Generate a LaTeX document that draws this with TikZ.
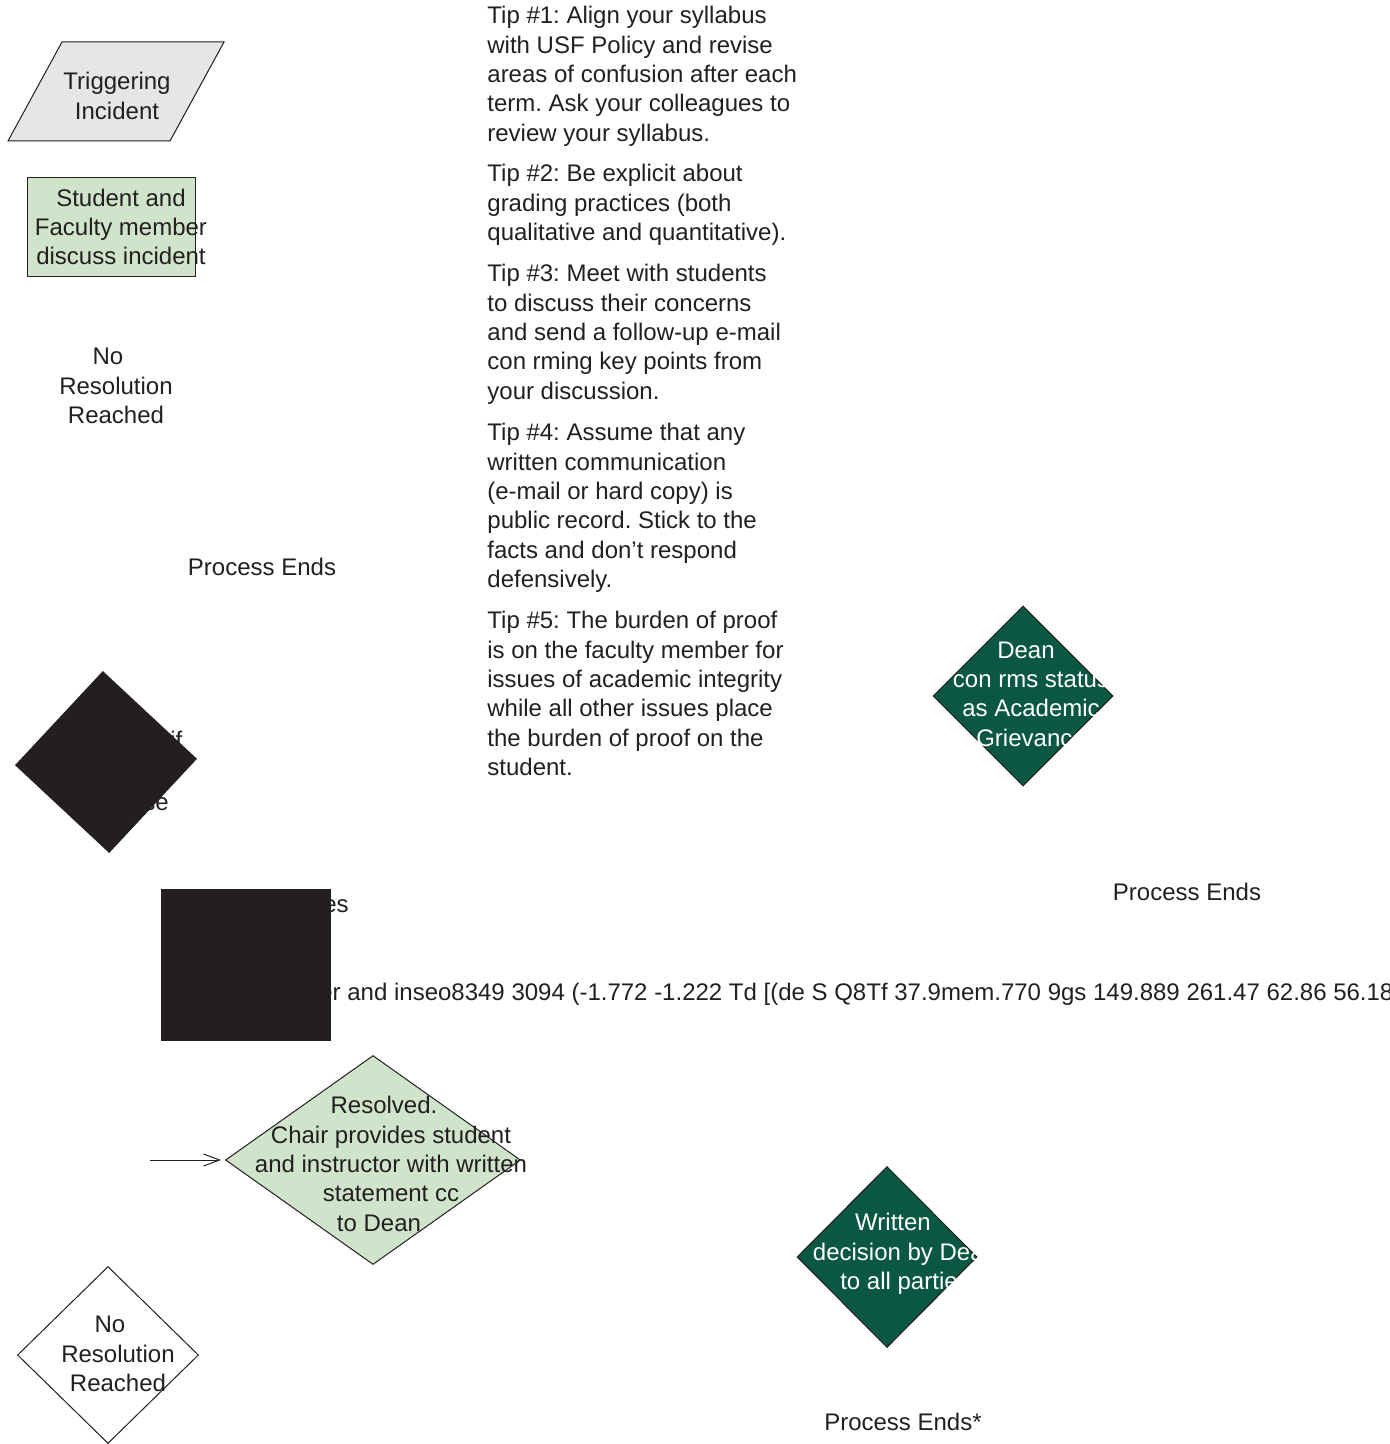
\documentclass[tikz,border=0pt]{standalone}
\usepackage{fontspec}
\setmainfont{Liberation Sans}
\usetikzlibrary{shapes.geometric,arrows.meta}

\definecolor{inkgray}{RGB}{35,31,32}
\definecolor{palegray}{RGB}{230,230,230}
\definecolor{palegreen}{RGB}{208,228,203}
\definecolor{deangreen}{RGB}{10,88,66}

\begin{document}
\frenchspacing
\begin{tikzpicture}[x=0.5pt, y=-0.5pt,
    txt/.style={font=\fontsize{12}{14.7}\selectfont, text=inkgray, inner sep=0pt, align=center},
    tiptxt/.style={txt, align=left, anchor=north west},
    wtxt/.style={txt, text=white},
    dia/.style={diamond, draw=inkgray, line width=0.5pt, inner sep=0pt},
    box/.style={rectangle, draw=inkgray, line width=0.5pt, inner sep=0pt}]
    \useasboundingbox (0,0) rectangle (1390,1444);

    % Triggering incident
    \draw[fill=palegray, draw=inkgray, line width=0.5pt] (8,141) -- (62,42) -- (224,42) -- (170,141) -- cycle;
    \node[txt] (trig) at (117,96) {Triggering\\Incident};

    % Student and faculty member
    \node[box, fill=palegreen, minimum width=84pt, minimum height=49.5pt] (discuss) at (111,227.5) {};
    \node[txt] (discusstxt) at (121,227) {Student and\\Faculty member\\discuss incident};

    % No resolution (top)
    \node[txt] (nores1) at (116,386) {No\hspace*{8pt}\\Resolution\\Reached};
    \node[txt] (ends1) at (262,567) {Process Ends};

    % Tips
    \node[tiptxt] (tip1) at (487,6) {Tip \#1: Align your syllabus\\with USF Policy and revise\\areas of confusion after each\\term. Ask your colleagues to\\review your syllabus.};
    \node[tiptxt] (tip2) at (487,164) {Tip \#2: Be explicit about\\grading practices (both\\qualitative and quantitative).};
    \node[tiptxt] (tip3) at (487,264) {Tip \#3: Meet with students\\to discuss their concerns\\and send a follow-up e-mail\\con rming key points from\\your discussion.};
    \node[tiptxt] (tip4) at (487,423) {Tip \#4: Assume that any\\written communication\\(e-mail or hard copy) is\\public record. Stick to the\\facts and don’t respond\\defensively.};
    \node[tiptxt] (tip5) at (487,611) {Tip \#5: The burden of proof\\is on the faculty member for\\issues of academic integrity\\while all other issues place\\the burden of proof on the\\student.};

    % Dean confirms
    \node[dia, fill=deangreen, minimum width=90pt, minimum height=90pt] (dean) at (1023,696) {};
    \node[wtxt] (deantxt) at (1031,694) {Dean\hspace*{5pt}\\con rms status\\as Academic\\Grievance};
    \node[txt] (ends2) at (1187,892) {Process Ends};

    % covered shapes
    \node[txt, anchor=base west] (frag1) at (170,748) {if};
    \node[txt, anchor=base west] (frag2) at (143,810) {se};
    \node[txt, anchor=base west] (frag3) at (323,912) {es};
    \node[txt, anchor=base west] (garble) at (319,1000) {er and inseo8349 3094 (-1.772 -1.222 Td [(de S Q8Tf 37.9mem.770 9gs 149.889 261.47 62.86 56.18};
    \node[dia, fill=inkgray, rotate=2, minimum width=90.5pt, minimum height=90.5pt] (blackdia) at (106,762) {};
    \node[box, fill=inkgray, minimum width=84.5pt, minimum height=75.5pt] (blackbox) at (245.5,964.5) {};

    % Resolved
    \node[dia, fill=palegreen, minimum width=147.5pt, minimum height=104.5pt] (resolved) at (373,1160) {};
    \node[txt] (resolvedtxt) at (391,1164) {Resolved.\hspace*{7pt}\\Chair provides student\\and instructor with written\\statement cc\hspace*{8pt}\\to Dean\hspace*{12pt}};
    \coordinate (arrstart) at (150,1160);
    \draw[line width=0.5pt, draw=inkgray, -{Straight Barb[length=8pt,width=6pt]}, shorten >=2pt] (arrstart) -- (resolved.west);

    % No resolution (bottom)
    \node[dia, fill=white, minimum width=90.5pt, minimum height=88.5pt] (nores2) at (108,1355) {};
    \node[txt] (nores2txt) at (118,1354) {No\hspace*{8pt}\\Resolution\\Reached};

    % Written decision
    \node[dia, fill=deangreen, minimum width=90pt, minimum height=90.5pt] (written) at (887,1257) {};
    \node[wtxt] (writtentxt) at (905,1254) {Written\hspace*{12pt}\\decision by Dean\\to all parties};
    \node[txt] (ends3) at (903,1422) {Process Ends*};
\end{tikzpicture}
\end{document}
